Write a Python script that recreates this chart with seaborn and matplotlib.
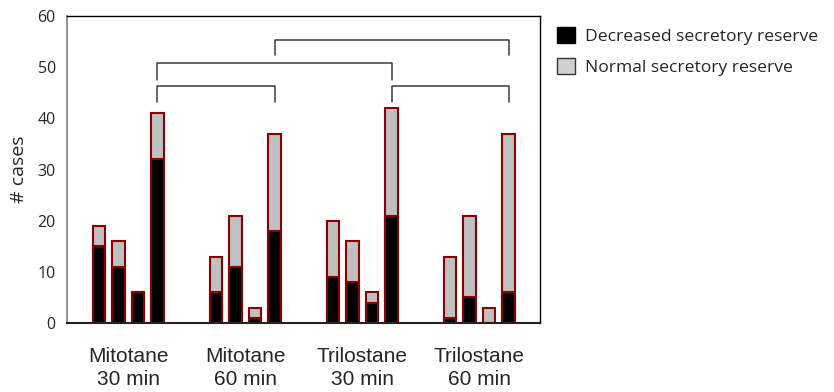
import numpy as np
import pandas as pd
import seaborn as sns
import matplotlib.pyplot as plt
from matplotlib.patches import Patch

# data
groups = ["Mitotane\n30 min", "Mitotane\n60 min", "Trilostane\n30 min", "Trilostane\n60 min"]
totals = [19, 16, 6, 41, 13, 21, 3, 37, 20, 16, 6, 42, 13, 21, 3, 37]
decreased = [15, 11, 6, 32, 6, 11, 1, 18, 9, 8, 4, 21, 1, 5, 0, 6]
series = ["Decreased secretory reserve", "Normal secretory reserve"]

# bar slots: 4 bars per group, 2 empty slots between groups
pos = [g * 6 + i for g in range(4) for i in range(4)]
df = pd.DataFrame({"pos": pos, "total": totals, "decreased": decreased})

# significance brackets: (start bar, end bar, top, leg bottom)
brackets = [(3, 7, 46.3, 43.3), (3, 11, 50.8, 47.6), (7, 15, 55.3, 52.3), (11, 15, 46.3, 43.3)]

sns.set_style("white")
plt.rcParams["font.family"] = ["Open Sans", "DejaVu Sans"]

fig = plt.figure(figsize=(8.34, 3.92), dpi=100)
ax = fig.add_axes([0.0803, 0.176, 0.567, 0.783])

edge = "#8B0000"
sns.barplot(data=df, x="pos", y="total", native_scale=True, color="#C0C0C0",
            width=0.65, edgecolor=edge, linewidth=1.5, saturation=1, ax=ax)
sns.barplot(data=df, x="pos", y="decreased", native_scale=True, color="black",
            width=0.65, edgecolor=edge, linewidth=1.5, saturation=1, ax=ax)

for b0, b1, top, low in brackets:
    x0, x1 = pos[b0], pos[b1]
    ax.plot([x0, x0, x1, x1], [low, top, top, low], color="#3a3a3a", lw=1.1,
            solid_joinstyle="round", clip_on=False)

ax.set_xlim(-1.64, 22.6)
ax.set_ylim(0, 60)
ax.set_yticks(range(0, 61, 10))
ax.set_xticks([-1, 4, 9, 14, 19])
ax.set_xticklabels([])
ax.tick_params(axis="x", direction="inout", length=3, width=1, color="#333333")
ax.tick_params(axis="y", direction="out", length=4, width=1, color="#808080",
               labelsize=11.5, pad=4)
ax.set_xlabel("")
ax.set_ylabel("# cases", fontsize=14, labelpad=7)

for s in ["top", "right"]:
    ax.spines[s].set_color("black")
    ax.spines[s].set_linewidth(1)
ax.spines["left"].set_color("#808080")
ax.spines["left"].set_linewidth(1.2)
ax.spines["bottom"].set_color("#222222")
ax.spines["bottom"].set_linewidth(1.5)

for g, name in enumerate(groups):
    ax.text(g * 6 + 1.5, -4.7, name, ha="center", va="top", fontsize=15,
            family="Liberation Sans", linespacing=1.25)

handles = [Patch(facecolor="black", edgecolor="black", label=series[0]),
           Patch(facecolor="#D0D0D0", edgecolor="#333333", label=series[1])]
fig.legend(handles=handles, loc="upper left", bbox_to_anchor=(0.659, 0.95),
           frameon=False, fontsize=12.6, handlelength=1.05, handleheight=1.05,
           handletextpad=0.6, labelspacing=0.75, borderaxespad=0)

plt.savefig("out.png", dpi=100)
